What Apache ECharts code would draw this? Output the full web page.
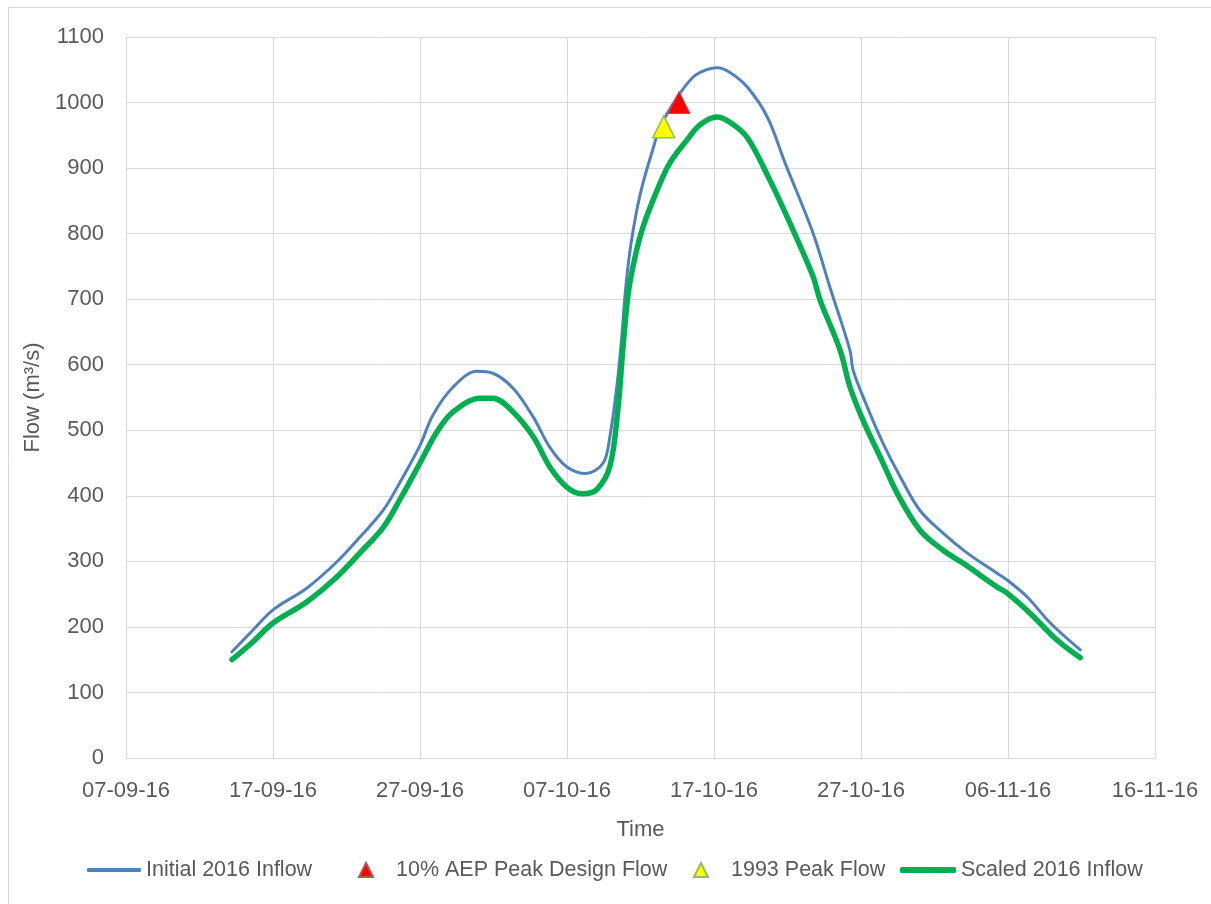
<!DOCTYPE html>
<html><head><meta charset="utf-8">
<script src="https://cdn.jsdelivr.net/npm/echarts@6/dist/echarts.min.js"></script>
<style>html,body{margin:0;padding:0;background:#fff}#c{width:1211px;height:904px}</style>
</head><body><div id="c"></div><script>
// Time axis ticks (Excel serial days, every 10 days from 07-09-16)
const xTickMin = 42620;   // 07-09-16
const xTickMax = 42690;   // 16-11-16
const xTickStep = 10;
const yTickMin = 0, yTickMax = 1100, yTickStep = 100;

const initialTimes = [
 '2016-09-14 05:00','2016-09-15 15:00','2016-09-17 00:00','2016-09-19 07:00','2016-09-21 08:00',
 '2016-09-22 22:00','2016-09-24 12:00','2016-09-25 15:00','2016-09-27 00:00','2016-09-27 21:00',
 '2016-09-29 06:00','2016-09-30 21:00','2016-10-01 23:00','2016-10-03 08:00','2016-10-04 17:00',
 '2016-10-05 20:00','2016-10-07 00:00','2016-10-08 07:00','2016-10-09 11:00','2016-10-09 22:00',
 '2016-10-10 10:00','2016-10-10 18:00','2016-10-10 23:00','2016-10-11 07:00','2016-10-11 18:00',
 '2016-10-12 04:00','2016-10-12 20:00','2016-10-13 08:00','2016-10-14 12:00','2016-10-15 14:00',
 '2016-10-16 12:00','2016-10-17 05:00','2016-10-18 02:00','2016-10-19 06:00','2016-10-20 15:00',
 '2016-10-21 20:00','2016-10-23 18:00','2016-10-24 21:00','2016-10-26 06:00','2016-10-26 11:00',
 '2016-10-27 10:00','2016-10-28 12:00','2016-10-29 16:00','2016-10-31 00:00','2016-11-01 14:00',
 '2016-11-03 05:00','2016-11-05 06:00','2016-11-05 22:00','2016-11-07 07:00','2016-11-08 21:00',
 '2016-11-10 22:00'
];
const initialFlow = [
 162,195,226,259,299,
 337,378,420,477,523,
 566,590,587,564,520,
 474,444,434,450,490,
 572,648,709,775,836,
 877,928,963,1008,1039,
 1050,1053,1046,1024,978,
 908,800,719,622,592,
 536,480,429,378,343,
 313,282,272,246,206,
 165
];

const scaledTimes = [
 '2016-09-14 05:00','2016-09-15 15:00','2016-09-17 00:00','2016-09-19 07:00','2016-09-21 08:00',
 '2016-09-22 22:00','2016-09-24 12:00','2016-09-25 15:00','2016-09-27 00:00','2016-09-28 04:00',
 '2016-09-29 06:00','2016-10-01 02:00','2016-10-01 23:00','2016-10-03 08:00','2016-10-04 17:00',
 '2016-10-05 20:00','2016-10-07 00:00','2016-10-08 02:00','2016-10-09 01:00','2016-10-09 22:00',
 '2016-10-10 11:00','2016-10-10 19:00','2016-10-11 04:00','2016-10-11 15:00','2016-10-12 04:00',
 '2016-10-13 03:00','2016-10-14 00:00','2016-10-15 04:00','2016-10-16 01:00','2016-10-17 05:00',
 '2016-10-18 02:00','2016-10-19 06:00','2016-10-20 19:00','2016-10-22 04:00','2016-10-23 18:00',
 '2016-10-24 05:00','2016-10-25 14:00','2016-10-26 06:00','2016-10-27 03:00','2016-10-28 12:00',
 '2016-10-29 11:00','2016-10-31 00:00','2016-11-01 14:00','2016-11-02 23:00','2016-11-05 06:00',
 '2016-11-05 22:00','2016-11-07 12:00','2016-11-09 08:00','2016-11-10 22:00'
];
const scaledFlow = [
 150,177,206,238,276,
 313,352,394,450,498,
 528,549,549,528,490,
 444,413,403,410,445,
 531,622,709,764,810,
 866,908,943,966,978,
 970,947,882,816,734,
 699,622,566,516,450,
 404,348,317,297,261,
 252,221,180,153
];

const aepTimes = ['2016-10-14 15:00'];
const aepFlow = [1000];
const peak1993Times = ['2016-10-13 14:00'];
const peak1993Flow = [963];

const EXCEL_EPOCH = Date.UTC(1899, 11, 30);
function toSerial(s) {
  const [d, t] = s.split(' ');
  const [Y, M, D] = d.split('-').map(Number);
  const [h, m] = t.split(':').map(Number);
  return (Date.UTC(Y, M - 1, D, h, m) - EXCEL_EPOCH) / 86400000;
}
function fmtSerial(v) {
  const dt = new Date(EXCEL_EPOCH + Math.round(v) * 86400000);
  const p = n => String(n).padStart(2, '0');
  return p(dt.getUTCDate()) + '-' + p(dt.getUTCMonth() + 1) + '-' + p(dt.getUTCFullYear() % 100);
}
const zip = (ts, vs) => ts.map((t, i) => [toSerial(t), vs[i]]);

const FONT = 'Liberation Sans';
const TXT = '#595959';
const GRID = '#D9D9D9';
const legendText = { fontFamily: FONT, fontSize: 21.5, color: TXT };
const TRI = 'path://M5,0 L10,10 L0,10 Z';

const chart = echarts.init(document.getElementById('c'), null, { renderer: 'canvas' });
chart.setOption({
  backgroundColor: '#ffffff',
  animation: false,
  textStyle: { fontFamily: FONT },
  graphic: [{
    type: 'rect', silent: true, z: -1,
    shape: { x: 8.5, y: 7.5, width: 1400, height: 1000 },
    style: { fill: 'none', stroke: GRID, lineWidth: 1 }
  }],
  grid: { left: 126, right: 56, top: 37, bottom: 146, containLabel: false },
  xAxis: {
    type: 'value', min: xTickMin, max: xTickMax, interval: xTickStep,
    axisLine: { show: true, lineStyle: { color: GRID, width: 1 } },
    axisTick: { show: false },
    splitLine: { show: true, lineStyle: { color: GRID, width: 1 } },
    axisLabel: { fontFamily: FONT, fontSize: 22, color: TXT, margin: 22, formatter: fmtSerial },
    name: 'Time', nameLocation: 'middle', nameGap: 61,
    nameTextStyle: { fontFamily: FONT, fontSize: 22, color: TXT }
  },
  yAxis: {
    type: 'value', min: yTickMin, max: yTickMax, interval: yTickStep,
    axisLine: { show: false }, axisTick: { show: false },
    splitLine: { show: true, lineStyle: { color: GRID, width: 1 } },
    axisLabel: { fontFamily: FONT, fontSize: 22, color: TXT, margin: 22, formatter: v => String(v) },
    name: 'Flow (m³/s)', nameLocation: 'middle', nameGap: 70,
    nameTextStyle: { fontFamily: FONT, fontSize: 22, color: TXT }
  },
  legend: [
    { data: [{ name: 'Initial 2016 Inflow', icon: 'roundRect' }], left: 82, top: 854,
      itemWidth: 54, itemHeight: 4, textStyle: legendText },
    { data: [{ name: '10% AEP Peak Design Flow', icon: TRI }], left: 353, top: 854,
      itemWidth: 50, itemHeight: 14, textStyle: legendText },
    { data: [{ name: '1993 Peak Flow', icon: TRI }], left: 688, top: 854,
      itemWidth: 50, itemHeight: 14, textStyle: legendText },
    { data: [{ name: 'Scaled 2016 Inflow', icon: 'roundRect' }], left: 895, top: 854,
      itemWidth: 56, itemHeight: 6, textStyle: legendText }
  ],
  series: [
    { name: 'Initial 2016 Inflow', type: 'line', data: zip(initialTimes, initialFlow),
      symbol: 'none', smooth: 0.35, z: 2,
      lineStyle: { color: '#4F81BD', width: 3, cap: 'round' }, itemStyle: { color: '#4F81BD' } },
    { name: 'Scaled 2016 Inflow', type: 'line', data: zip(scaledTimes, scaledFlow),
      symbol: 'none', smooth: 0.35, z: 3,
      lineStyle: { color: '#00B050', width: 5.5, cap: 'round' }, itemStyle: { color: '#00B050' } },
    { name: '10% AEP Peak Design Flow', type: 'scatter', data: zip(aepTimes, aepFlow),
      symbol: 'triangle', symbolSize: 22, z: 4,
      itemStyle: { color: '#FF0000', borderColor: '#C0504D', borderWidth: 1, opacity: 1 } },
    { name: '1993 Peak Flow', type: 'scatter', data: zip(peak1993Times, peak1993Flow),
      symbol: 'triangle', symbolSize: 22, z: 4,
      itemStyle: { color: '#FFFF00', borderColor: '#9BBB59', borderWidth: 1.5, opacity: 1 } }
  ]
});
</script></body></html>
